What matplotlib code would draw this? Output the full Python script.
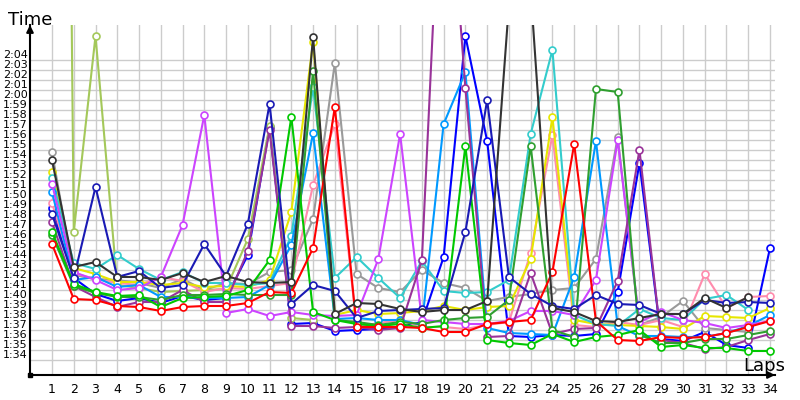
import numpy as np
import matplotlib
matplotlib.use("Agg")
import matplotlib.pyplot as plt
from matplotlib.transforms import ScaledTranslation

nan = np.nan

# 周回番号
laps = list(range(1, 35))

# ラップタイム(秒)  ※グラフから読み取った概算値
red = [105.6, 100.1, 100.0, 99.4, 99.3, 98.9, 99.3, 99.4, 99.4, 99.7, 100.8, 100.7, 105.2, 119.3,
       97.3, 97.3, 97.3, 97.2, 96.8, 96.8, 97.6, 97.8, 98.0, 102.8, 115.6, 97.9, 96.0, 95.9,
       96.3, 96.2, 96.3, 96.7, 97.3, 97.9]
green = [106.8, 101.6, 100.8, 100.4, 100.5, 99.3, 100.2, 100.3, 100.4, 101.0, 104.0, 118.3, 98.8, 98.0,
         97.6, 97.4, 97.6, 97.2, 97.4, 115.4, 96.0, 95.7, 95.5, 96.6, 95.8, 96.3, 96.5, 97.0,
         95.3, 95.5, 95.2, 95.2, 94.9, 94.9]
dark_green = [106.5, 101.4, 100.7, 100.3, 100.3, 100.0, 100.5, 100.5, 100.6, 100.5, 100.5, 100.5, 122.9, 98.0,
              97.8, 97.5, 97.8, 97.6, 98.0, 98.2, 98.3, 100.0, 115.4, 97.0, 96.3, 121.1, 120.8, 96.5,
              95.7, 95.7, 96.1, 96.1, 96.5, 96.9]
blue = [109.2, 102.2, 100.6, 99.9, 100.2, 99.7, 100.4, 100.0, 100.2, 104.5, 117.3, 97.6, 97.7, 96.9,
        97.0, 97.1, 97.3, 97.8, 104.3, 126.4, 115.9, 96.4, 96.3, 96.5, 96.4, 96.6, 100.8, 113.7,
        96.1, 95.9, 96.8, 95.5, 95.2, 105.2]
navy = [108.6, 102.2, 111.3, 102.3, 102.9, 101.2, 101.5, 105.6, 102.4, 107.6, 119.6, 99.6, 101.5, 100.9,
        98.2, 98.9, 99.0, 99.1, 99.2, 106.8, 120.0, 102.3, 100.6, 99.4, 99.1, 100.5, 99.6, 99.5,
        98.6, 98.6, 100.0, 99.7, 99.8, 99.7]
light_blue = [110.8, 102.0, 102.3, 101.3, 101.5, 100.3, 100.3, 100.2, 100.2, 100.3, 101.5, 105.5, 116.7, 98.1,
              98.2, 98.0, 98.0, 97.5, 117.6, 122.8, 97.2, 96.7, 96.6, 96.5, 102.3, 115.9, 97.4, 96.4,
              96.4, 96.3, 96.3, 96.7, 97.4, 98.5]
turquoise = [112.2, 103.7, 103.1, 104.5, 103.1, 102.0, 102.8, 101.7, 101.7, 101.5, 101.7, 106.4, 121.3, 102.2,
             104.3, 102.2, 100.2, 103.9, 100.9, 100.7, 100.8, 102.0, 116.6, 125.0, 98.5, 97.6, 97.4, 99.1,
             98.2, 98.0, 100.1, 100.5, 99.0, nan]
yellow = [112.8, 103.2, 102.6, 101.8, 101.8, 101.5, 101.7, 101.3, 101.4, 101.3, 102.0, 108.8, 125.8, 98.5,
          99.0, 98.6, 98.7, 98.9, 99.4, 99.0, 99.3, 99.4, 104.1, 118.3, 98.0, 97.6, 97.5, 97.4,
          97.3, 97.1, 98.4, 98.3, 98.2, 99.2]
lime = [330.0, 106.8, 126.4, 101.5, 101.2, 100.8, 100.9, 101.0, 101.1, 106.1, 117.4, 98.2, 98.0, nan,
        nan, nan, nan, nan, nan, nan, nan, nan, nan, nan, nan, nan, nan, nan,
        nan, nan, nan, nan, nan, nan]
pink = [109.7, 102.7, 102.1, 101.7, 101.5, 102.3, 101.9, 100.8, 101.2, 101.1, 101.4, 101.7, 111.5, 117.6,
        97.3, 97.7, 98.0, 97.3, 97.3, 97.1, 97.5, 97.8, 104.7, 116.5, 97.5, 97.3, 97.8, 97.5,
        98.0, 97.3, 102.6, 99.2, 100.3, 100.4]
violet = [111.6, 102.8, 102.0, 101.0, 101.2, 102.3, 107.5, 118.5, 98.7, 99.1, 98.4, 98.8, 98.5, 98.4,
          98.5, 104.1, 116.6, 98.0, 97.8, 97.6, 97.6, 97.9, 98.9, 98.9, 98.5, 102.0, 116.0, 97.8,
          98.8, 98.0, 97.7, 97.2, 97.5, 97.9]
purple = [107.8, 101.4, 100.3, 99.3, 99.8, 99.8, 101.0, 99.8, 99.8, 104.9, 117.0, 97.4, 97.4, 97.2,
          97.3, 97.0, 97.2, 104.0, 150.0, 121.2, 96.3, 96.4, 102.7, 96.6, 97.1, 97.2, 101.9, 115.0,
          96.0, 95.7, 95.1, 95.3, 96.0, 96.6]
black = [114.0, 103.3, 103.8, 102.3, 102.3, 102.0, 102.7, 101.8, 102.4, 101.8, 101.7, 101.8, 126.3, 98.6,
         99.7, 99.6, 99.1, 98.8, 99.0, 99.0, 99.9, 129.5, 131.0, 99.2, 98.8, 97.9, 97.8, 98.2,
         98.6, 98.6, 100.2, 99.2, 100.3, nan]
gray = [114.8, 102.5, 102.1, 102.0, 101.7, 101.2, 102.1, 101.0, 101.7, 101.6, 102.8, 103.0, 108.1, 123.7,
        102.6, 101.2, 100.8, 103.0, 101.7, 101.2, 99.9, 100.3, 100.6, 101.0, 101.2, 104.1, 116.3, 97.5,
        98.3, 99.9, 97.2, 97.0, 96.8, nan]

series = [
    (blue, "#0000ff"),
    (gray, "#9a9a9a"),
    (lime, "#a4c85a"),
    (pink, "#ff8cad"),
    (yellow, "#e6e600"),
    (turquoise, "#33cccc"),
    (light_blue, "#0099ff"),
    (violet, "#cc44ff"),
    (purple, "#993399"),
    (dark_green, "#2f9f2f"),
    (green, "#00c800"),
    (red, "#ff0000"),
    (navy, "#1a1ab4"),
    (black, "#333333"),
]

y_ticks = list(range(94, 125))
y_labels = [f"{t // 60}:{t % 60:02d}" for t in y_ticks]

fig = plt.figure(figsize=(8, 4), dpi=100)
ax = fig.add_axes([30 / 800, 25 / 400, 745 / 800, 350 / 400])

for values, color in series:
    ax.plot(laps, values, color=color, lw=1.5, marker="o", ms=5, mfc="white",
            mec=color, mew=1.2, zorder=3)

ax.set_xlim(-0.011, 34.23)
ax.set_ylim(92.5, 127.5)
ax.set_xticks(laps)
ax.set_xticklabels([str(l) for l in laps], fontsize=9)
ax.set_yticks(y_ticks)
ax.set_yticklabels(y_labels, fontsize=8)
ax.tick_params(length=0)
ax.tick_params(axis="y", pad=1.5)
ax.tick_params(axis="x", pad=6)
ax.grid(True, color="#cccccc", lw=1)
ax.set_axisbelow(True)

# y軸ラベルを少し上にずらす
shift = ScaledTranslation(0, 6 / 100, fig.dpi_scale_trans)
for label in ax.get_yticklabels():
    label.set_transform(label.get_transform() + shift)

for side in ["top", "right"]:
    ax.spines[side].set_visible(False)
for side in ["left", "bottom"]:
    ax.spines[side].set_color("black")
    ax.spines[side].set_linewidth(1.5)

# 軸の矢印
ax.annotate("", xy=(0, 1), xytext=(0, 0.97), xycoords="axes fraction",
            arrowprops=dict(arrowstyle="-|>", color="black", lw=1.5,
                            mutation_scale=10, shrinkA=0, shrinkB=0))
ax.annotate("", xy=(1.0, 0), xytext=(0.99, 0), xycoords="axes fraction",
            arrowprops=dict(arrowstyle="-|>", color="black", lw=1.5,
                            mutation_scale=10, shrinkA=0, shrinkB=0))
ax.plot([0], [0], marker="s", ms=3, color="black", transform=ax.transAxes, clip_on=False)

fig.text(8 / 800, 1 - 25 / 400, "Time", fontsize=13, va="baseline")
fig.text(743 / 800, 1 - 371 / 400, "Laps", fontsize=13, va="baseline")

fig.savefig("out.png", dpi=100)
